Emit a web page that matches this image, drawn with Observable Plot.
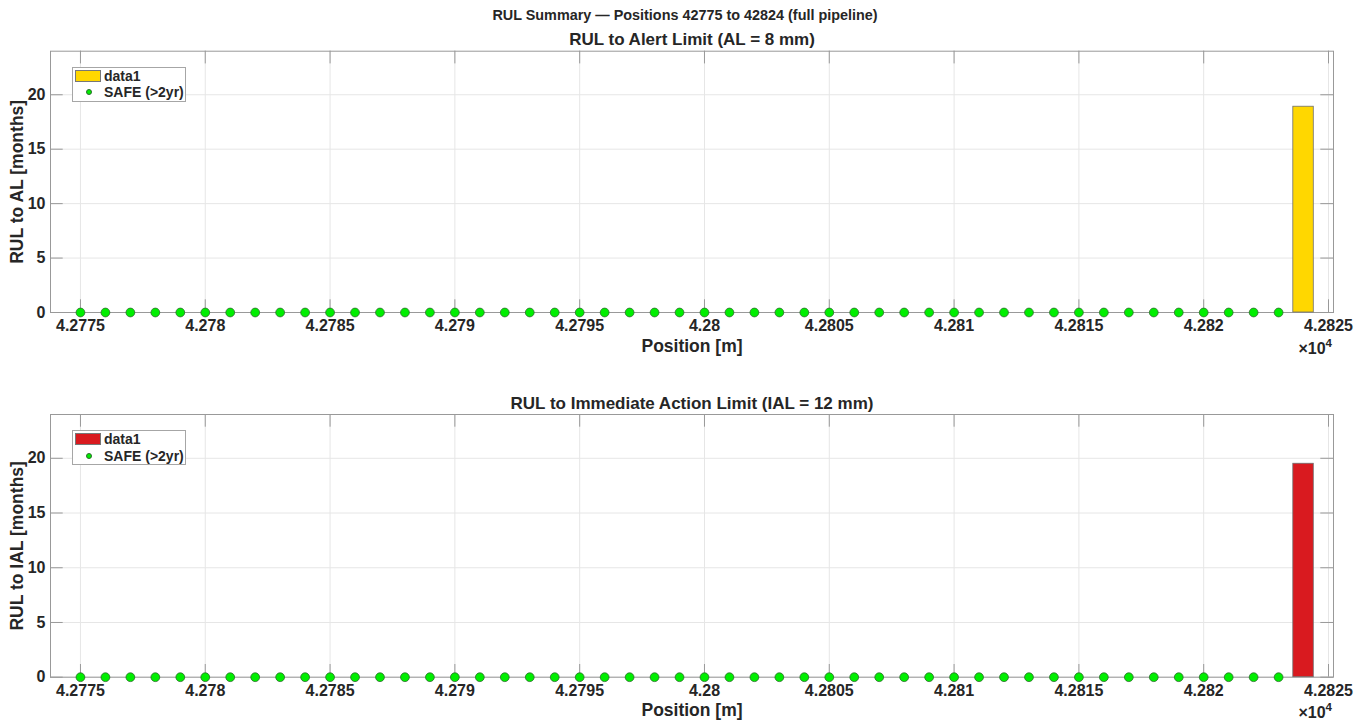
<!DOCTYPE html>
<html>
<head>
<meta charset="utf-8">
<script src="https://cdn.jsdelivr.net/npm/d3@7"></script>
<script src="https://cdn.jsdelivr.net/npm/@observablehq/plot@0.6"></script>
<style>
  body { margin: 0; background: #fff; font-family: "Liberation Sans", Arial, sans-serif; }
  #root { position: relative; width: 1370px; height: 724px; overflow: hidden; }
  #root svg { position: absolute; left: 0; }
  .suptitle { position: absolute; left: 0; width: 1370px; top: 7px; line-height: 16px; text-align: center; font-weight: bold; font-size: 14.4px; color: #262626; }
  .legend { position: absolute; left: 72px; width: 112px; height: 33px; border: 1px solid #a6a6a6; background: #fff; font-weight: bold; font-size: 14px; color: #262626; }
  .legend .sw { position: absolute; left: 2px; top: 2px; width: 26px; height: 12px; border: 1px solid #777; box-sizing: border-box; }
  .legend .dot { position: absolute; left: 13px; top: 21.5px; width: 6px; height: 6px; border-radius: 50%; background: #00ee00; border: 0.6px solid #2d6b2d; box-sizing: border-box; }
  .legend .t1 { position: absolute; left: 31px; top: 0px; line-height: 16px; }
  .legend .t2 { position: absolute; left: 31px; top: 16.5px; line-height: 16px; }
  .exp { position: absolute; right: 38px; line-height: 18px; font-weight: bold; font-size: 16px; color: #262626; }
  .exp sup { font-size: 11.5px; position: relative; top: -1px; }
</style>
</head>
<body>
<div id="root">
  <div class="suptitle">RUL Summary — Positions 42775 to 42824 (full pipeline)</div>
</div>
<script>
// ---- data ----
const safePositions = [42775, 42776, 42777, 42778, 42779, 42780, 42781, 42782, 42783, 42784,
  42785, 42786, 42787, 42788, 42789, 42790, 42791, 42792, 42793, 42794,
  42795, 42796, 42797, 42798, 42799, 42800, 42801, 42802, 42803, 42804,
  42805, 42806, 42807, 42808, 42809, 42810, 42811, 42812, 42813, 42814,
  42815, 42816, 42817, 42818, 42819, 42820, 42821, 42822, 42823];
const safeValues = safePositions.map(() => 0);
const barPositions = [42824];
const rulAL = [18.9];
const rulIAL = [19.5];
const xTicks = [42775, 42780, 42785, 42790, 42795, 42800, 42805, 42810, 42815, 42820, 42825];
const xTickLabels = ["4.2775", "4.278", "4.2785", "4.279", "4.2795", "4.28", "4.2805", "4.281", "4.2815", "4.282", "4.2825"];
const yTicks = [0, 5, 10, 15, 20];
const legendLabels = ["data1", "SAFE (>2yr)"];

const root = document.getElementById("root");
const W = 1370, H = 362, ML = 50, MR = 37, TICK = 12.7;
const textColor = "#262626";
const axisColor = "#999999";

function panel({title, ylabel, values, barColor, top, mt, mb, titleDy}) {
  const frameH = H - mt - mb;
  const frameW = W - ML - MR;
  const bars = barPositions.map((p, i) => ({pos: p, v: values[i]}));
  const dots = safePositions.map((p, i) => ({pos: p, v: safeValues[i]}));
  const svg = Plot.plot({
    width: W, height: H,
    marginTop: mt, marginBottom: mb, marginLeft: ML, marginRight: MR,
    x: {domain: [42773.8, 42825.2]},
    y: {domain: [0, 24]},
    style: {fontFamily: "'Liberation Sans', Arial, sans-serif", fontWeight: "bold", fontSize: "16px", color: textColor, background: "transparent"},
    marks: [
      Plot.gridX(xTicks, {stroke: "#e6e6e6", strokeOpacity: 1}),
      Plot.gridY(yTicks, {stroke: "#e6e6e6", strokeOpacity: 1}),
      Plot.ruleX(xTicks, {insetTop: frameH - TICK, stroke: axisColor}),
      Plot.ruleX(xTicks, {insetBottom: frameH - TICK, stroke: axisColor}),
      Plot.ruleY(yTicks, {insetRight: frameW - TICK, stroke: axisColor}),
      Plot.ruleY(yTicks, {insetLeft: frameW - TICK, stroke: axisColor}),
      Plot.frame({stroke: axisColor}),
      Plot.rectY(bars, {x1: d => d.pos - 0.41, x2: d => d.pos + 0.41, y: "v", fill: barColor, stroke: "#6e6e6e", strokeWidth: 0.8}),
      Plot.dot(dots, {x: "pos", y: "v", r: 4.4, fill: "#00ee00", stroke: "#2d6b2d", strokeWidth: 0.8}),
      Plot.axisX(xTicks, {tickSize: 0, tickPadding: 7, tickFormat: d => xTickLabels[xTicks.indexOf(d)], label: null, fill: textColor, fontSize: 16}),
      Plot.axisY(yTicks, {tickSize: 0, tickPadding: 5, label: null, fill: textColor, fontSize: 16}),
      Plot.text([ylabel], {frameAnchor: "left", textAnchor: "middle", lineAnchor: "middle", rotate: -90, dx: -33, fontSize: 17.5, fontWeight: "bold", fill: textColor}),
      Plot.text(["Position [m]"], {frameAnchor: "bottom", lineAnchor: "middle", dy: 33.5, fontSize: 17.5, fontWeight: "bold", fill: textColor}),
      Plot.text([title], {frameAnchor: "top", lineAnchor: "middle", dy: titleDy, fontSize: 17, fontWeight: "bold", fill: textColor})
    ]
  });
  svg.style.top = top + "px";
  root.appendChild(svg);

  const ex = document.createElement("div");
  ex.className = "exp";
  ex.style.top = (top + H - mb + 31.5 - 9) + "px";
  ex.innerHTML = "×10<sup>4</sup>";
  root.appendChild(ex);

  const lg = document.createElement("div");
  lg.className = "legend";
  lg.style.top = (top + mt + 16) + "px";
  lg.innerHTML = `<div class="sw" style="background:${barColor}"></div><div class="t1">${legendLabels[0]}</div>` +
                 `<div class="dot"></div><div class="t2">${legendLabels[1]}</div>`;
  root.appendChild(lg);
}

panel({title: "RUL to Alert Limit (AL = 8 mm)", ylabel: "RUL to AL [months]", values: rulAL, barColor: "#ffd700", top: 0, mt: 50.7, mb: 50, titleDy: -11.7});
panel({title: "RUL to Immediate Action Limit (IAL = 12 mm)", ylabel: "RUL to IAL [months]", values: rulIAL, barColor: "#d91a1f", top: 362, mt: 52, mb: 47.3, titleDy: -11});
</script>
</body>
</html>
